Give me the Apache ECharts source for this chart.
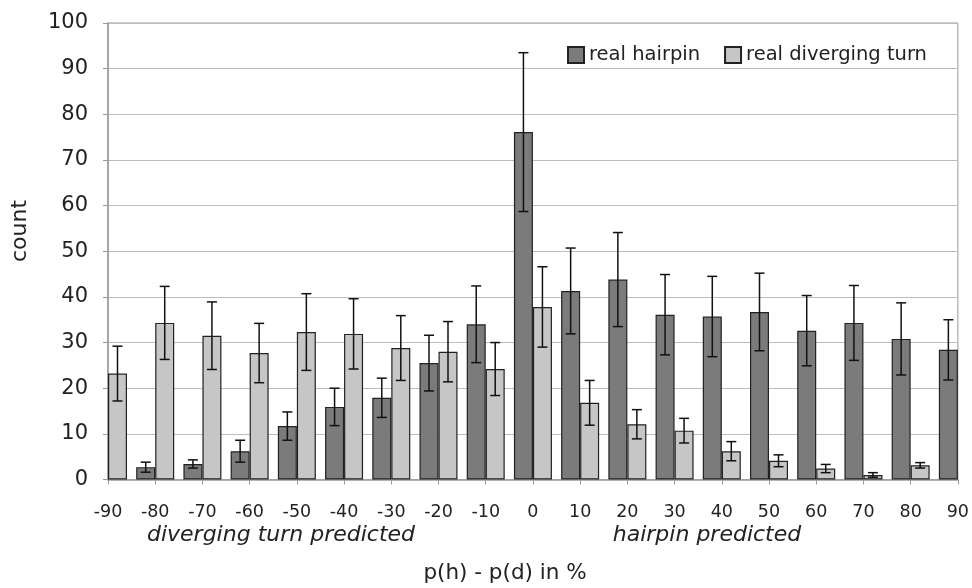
<!DOCTYPE html>
<html>
<head>
<meta charset="utf-8">
<script src="https://cdn.jsdelivr.net/npm/echarts@6/dist/echarts.min.js"></script>
<style>html,body{margin:0;padding:0;background:#fff}#c{width:972px;height:588px}</style>
</head>
<body>
<div id="c"></div>
<script>
// ---- data ----
var diffs = [-90, -80, -70, -60, -50, -40, -30, -20, -10, 0, 10, 20, 30, 40, 50, 60, 70, 80, 90];
var hairpin = [null, 2.7, 3.4, 6.2, 11.7, 15.9, 17.9, 25.5, 34.0, 76.1, 41.3, 43.8, 36.1, 35.7, 36.7, 32.6, 34.3, 30.8, 28.4];
var hairpinErr = [null, 1.1, 0.9, 2.4, 3.1, 4.1, 4.3, 6.1, 8.4, 17.4, 9.4, 10.3, 8.8, 8.8, 8.5, 7.7, 8.2, 7.9, 6.6];
var diverging = [23.2, 34.3, 31.5, 27.7, 32.3, 31.9, 28.8, 28.0, 24.2, 37.8, 16.8, 12.1, 10.7, 6.2, 4.1, 2.4, 1.0, 3.1, null];
var divergingErr = [6.0, 8.0, 7.4, 6.5, 8.4, 7.7, 7.1, 6.6, 5.8, 8.8, 4.9, 3.2, 2.7, 2.1, 1.3, 0.9, 0.5, 0.6, null];
var yTicks = [0, 10, 20, 30, 40, 50, 60, 70, 80, 90, 100];
var seriesNames = ['real hairpin', 'real diverging turn'];

var FONT = 'DejaVu Sans';
var BAR_W = 19;

function barData(vals) {
  var out = [];
  for (var i = 0; i < diffs.length; i++) out.push([diffs[i], vals[i]]);
  return out;
}
function errData(vals, errs) {
  var out = [];
  for (var i = 0; i < diffs.length; i++) {
    if (vals[i] == null) continue;
    out.push([diffs[i], vals[i] - errs[i], vals[i] + errs[i]]);
  }
  return out;
}
function errRender(offset) {
  return function (params, api) {
    var lo = api.coord([api.value(0), api.value(1)]);
    var hi = api.coord([api.value(0), api.value(2)]);
    var x = lo[0] + offset;
    var cap = 5;
    var st = { stroke: '#111', lineWidth: 1.5 };
    return {
      type: 'group',
      children: [
        { type: 'line', shape: { x1: x, y1: lo[1], x2: x, y2: hi[1] }, style: st },
        { type: 'line', shape: { x1: x - cap, y1: hi[1], x2: x + cap, y2: hi[1] }, style: st },
        { type: 'line', shape: { x1: x - cap, y1: lo[1], x2: x + cap, y2: lo[1] }, style: st }
      ]
    };
  };
}

var chart = echarts.init(document.getElementById('c'), null, { renderer: 'canvas' });
chart.setOption({
  animation: false,
  backgroundColor: '#fff',
  textStyle: { fontFamily: FONT, color: '#222' },
  grid: { left: 108, right: 11, top: 23, bottom: 108.5, show: true, borderColor: '#999', borderWidth: 1 },
  legend: {
    left: 562, top: 40,
    itemWidth: 16, itemHeight: 16, itemGap: 24,
    icon: 'rect',
    textStyle: { fontFamily: FONT, fontSize: 19.5, color: '#222' },
    data: seriesNames
  },
  xAxis: {
    type: 'value', min: -90, max: 90, interval: 10,
    axisLine: { show: true, onZero: false, lineStyle: { color: '#999', width: 1.5 } },
    axisTick: { show: true, inside: false, length: 5, lineStyle: { color: '#999' } },
    splitLine: { show: false },
    axisLabel: { fontFamily: FONT, fontSize: 17.5, color: '#222', margin: 24 }
  },
  yAxis: {
    type: 'value', min: yTicks[0], max: yTicks[yTicks.length - 1], interval: 10,
    axisLine: { show: true, onZero: false, lineStyle: { color: '#999', width: 1.5 } },
    axisTick: { show: true, inside: false, length: 5, lineStyle: { color: '#999' } },
    splitLine: { show: true, lineStyle: { color: '#bdbdbd', width: 1 } },
    axisLabel: { fontFamily: FONT, fontSize: 21, color: '#222', margin: 20 }
  },
  series: [
    {
      name: seriesNames[0], type: 'bar', data: barData(hairpin),
      barWidth: BAR_W, barGap: '0%',
      itemStyle: { color: '#7b7b7b', borderColor: '#222', borderWidth: 1.2 },
      clip: true
    },
    {
      name: seriesNames[1], type: 'bar', data: barData(diverging),
      barWidth: BAR_W, barGap: '0%',
      itemStyle: { color: '#c6c6c6', borderColor: '#222', borderWidth: 1.2 },
      clip: true
    },
    {
      type: 'custom', data: errData(hairpin, hairpinErr), renderItem: errRender(-BAR_W / 2),
      encode: { x: 0, y: [1, 2] }, z: 5, silent: true
    },
    {
      type: 'custom', data: errData(diverging, divergingErr), renderItem: errRender(BAR_W / 2),
      encode: { x: 0, y: [1, 2] }, z: 5, silent: true
    }
  ],
  graphic: [
    { type: 'text', x: 20, y: 231, rotation: Math.PI / 2,
      style: { text: 'count', fontFamily: FONT, fontSize: 22, fill: '#222', textAlign: 'center', textVerticalAlign: 'middle' } },
    { type: 'text', x: 281, y: 535,
      style: { text: 'diverging turn predicted', fontFamily: FONT, fontStyle: 'italic', fontSize: 22, fill: '#222', textAlign: 'center', textVerticalAlign: 'middle' } },
    { type: 'text', x: 707, y: 535,
      style: { text: 'hairpin predicted', fontFamily: FONT, fontStyle: 'italic', fontSize: 22, fill: '#222', textAlign: 'center', textVerticalAlign: 'middle' } },
    { type: 'text', x: 505, y: 573,
      style: { text: 'p(h) - p(d) in %', fontFamily: FONT, fontSize: 21.5, fill: '#222', textAlign: 'center', textVerticalAlign: 'middle' } }
  ]
});
</script>
</body>
</html>
